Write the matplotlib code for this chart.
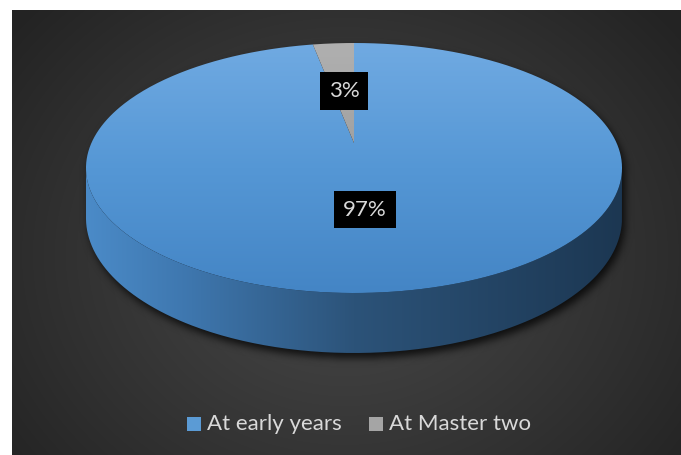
import numpy as np
import matplotlib
matplotlib.use("Agg")
import matplotlib.pyplot as plt
from matplotlib.path import Path
from matplotlib.patches import PathPatch, Rectangle
from matplotlib.colors import to_rgb

# Chart data
categories = ["At early years", "At Master two"]
shares = [97, 3]
slice_colors = ["#5b9bd5", "#a5a5a5"]

W, H = 681, 455
plt.rcParams["font.family"] = ["Lato", "DejaVu Sans"]

fig = plt.figure(figsize=(W / 100, H / 100), dpi=100)
fig.patch.set_facecolor("white")
ax = fig.add_axes([0, 0, 1, 1])
ax.set_xlim(0, W)
ax.set_ylim(H, 0)
ax.axis("off")

# ---- dark radial-gradient panel ----
px0, py0 = 12, 10
yy, xx = np.mgrid[py0:H, px0:W] + 0.5
r = np.hypot((xx - 345) / 1.0, (yy - 255) / 0.85)
t = np.clip(r / 430.0, 0, 1) ** 1.1
inner = np.array(to_rgb("#484848"))
outer = np.array(to_rgb("#232323"))
bg = inner * (1 - t[..., None]) + outer * t[..., None]
ax.imshow(bg, extent=(px0, W, H, py0), origin="upper", interpolation="bilinear", zorder=0)

# ---- perspective projection of the pie disc ----
cx, cy = 354.0, 143.0
A, B, k = 262.6, 120.0, 0.2
depth = 48.0


def project(theta_deg, drop=0.0):
    th = np.radians(theta_deg)
    u, v = np.cos(th), np.sin(th)
    s = 1.0 / (1.0 + k * v)
    return np.column_stack([cx + A * u * s, cy - B * v * s + drop * s])


sil = np.degrees(np.arcsin(-k))          # silhouette angle (about -11.5 deg)
left_sil, right_sil = 180 - sil, 360 + sil

# ---- drop shadow ----
far = project(np.linspace(right_sil - 360, left_sil, 200))
near = project(np.linspace(left_sil, right_sil, 200), depth)
outline = np.vstack([far, near])
shadow_path = Path(outline + np.array([3.0, 5.0]))
gy, gx = np.mgrid[0:H, 0:W] + 0.5
mask = shadow_path.contains_points(np.column_stack([gx.ravel(), gy.ravel()])).reshape(H, W).astype(float)
sig = 4.0
kx = np.arange(-14, 15)
kern = np.exp(-kx ** 2 / (2 * sig ** 2))
kern /= kern.sum()
mask = np.apply_along_axis(lambda m: np.convolve(m, kern, mode="same"), 1, mask)
mask = np.apply_along_axis(lambda m: np.convolve(m, kern, mode="same"), 0, mask)
shadow = np.zeros((H, W, 4))
shadow[..., 3] = 0.75 * mask
ax.imshow(shadow, extent=(0, W, H, 0), origin="upper", interpolation="bilinear", zorder=1)


def gradient_fill(poly, stops, axis, lo, hi, z):
    patch = PathPatch(Path(poly), facecolor="none", edgecolor="none", zorder=z)
    ax.add_patch(patch)
    n = 256
    pos = np.linspace(0, 1, n)
    cols = np.array([to_rgb(c) for _, c in stops])
    locs = np.array([p for p, _ in stops])
    img = np.stack([np.interp(pos, locs, cols[:, i]) for i in range(3)], axis=-1)
    if axis == "x":
        img = img[None, :, :]
        ext = (lo, hi, H, 0)
    else:
        img = img[:, None, :]
        ext = (0, W, hi, lo)
    im = ax.imshow(img, extent=ext, origin="upper", aspect="auto",
                   interpolation="bilinear", zorder=z)
    im.set_clip_path(patch)
    return im


# ---- slice angles: first slice starts at 12 o'clock, going clockwise ----
fractions = np.array(shares, dtype=float) / np.sum(shares)
bounds = 90 - 360 * np.concatenate([[0], np.cumsum(fractions)])

# ---- side wall (front, visible part of the large slice) ----
ang = np.linspace(left_sil, right_sil, 300)
side_poly = np.vstack([project(ang), project(ang[::-1], depth)])
gradient_fill(side_poly,
              [(0.0, "#4b8bc8"), (0.18, "#3f78b0"), (0.5, "#2c5379"), (1.0, "#1c3752")],
              "x", 85, 623, 3)

# ---- top faces ----
top_stops = {
    0: [(0.0, "#70aae2"), (0.5, "#5597d5"), (1.0, "#4485c5")],
    1: [(0.0, "#b0b0b0"), (1.0, "#8c8c8c")],
}
for i in range(len(shares)):
    a0, a1 = bounds[i], bounds[i + 1]
    arc = project(np.linspace(a0, a1, 400))
    poly = np.vstack([[cx, cy], arc, [cx, cy]])
    gradient_fill(poly, top_stops[i], "y", 43, 293, 4)

# ---- value labels in black boxes ----
label_pos = [(365, 209.5), (344, 91)]
for val, (lx, ly) in zip(shares, label_pos):
    ax.text(lx, ly, f"{val}%", color="#d9d9d9", fontsize=16, ha="center", va="center",
            zorder=6,
            bbox=dict(boxstyle="square,pad=0.4", facecolor="black", edgecolor="none"))

# ---- legend ----
leg_x = [187, 369]
for name, col, x0 in zip(categories, slice_colors, leg_x):
    ax.add_patch(Rectangle((x0, 417), 14, 14, facecolor=col, edgecolor="none", zorder=6))
    ax.text(x0 + 20, 424, name, color="#d9d9d9", fontsize=16, ha="left", va="center",
            zorder=6)

fig.savefig("out.png", dpi=100)
